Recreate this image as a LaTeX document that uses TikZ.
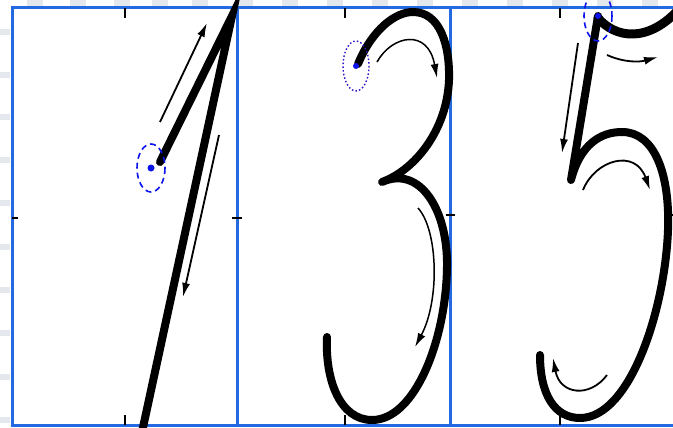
\documentclass[tikz,border=0pt]{standalone}
\usetikzlibrary{arrows.meta}
\definecolor{frameblue}{RGB}{35,105,225}
\definecolor{dotblue}{RGB}{10,20,235}
\definecolor{stripe}{RGB}{228,231,236}
\tikzset{
  digit/.style={line width=8pt,line cap=round,line join=round,black},
  guide/.style={line width=1.8pt,black,-{Latex[length=14pt,width=8pt]}},
  frame/.style={line width=3pt,frameblue},
  tick/.style={line width=1.8pt,black},
  startring/.style={line width=1.6pt,dotblue},
}
\begin{document}
\begin{tikzpicture}[x=1pt,y=-1pt]
\useasboundingbox (0,0) rectangle (673,428);
\fill[white] (0,0) rectangle (673,428);
% faint slide background stripes
\foreach \yy in {32,75,117,160,203,247,290,333,377,420}
  \fill[stripe] (0,\yy-3) rectangle (10,\yy+3);
\foreach \xx in {35,78,122,160,200,245,290,335,380,425,470,515,560,605,650}
  \fill[stripe] (\xx-8,0) rectangle (\xx+8,6);
% panels
\draw[frame] (12,8) rectangle (237,425);
\draw[frame] (237,8) rectangle (450,425);
\draw[frame] (450,8) -- (675,8);
\draw[frame] (450,425) -- (675,425);
% ticks
\foreach \xx in {125,345,560} {
  \draw[tick] (\xx,8) -- (\xx,18);
  \draw[tick] (\xx,415) -- (\xx,425);
}
\draw[tick] (12,218) -- (18,218);
\draw[tick] (232,218) -- (242,218);
\draw[tick] (446,215) -- (455,215);
\draw[tick] (668,215) -- (673,215);

% ---------- digit 1 ----------
\coordinate (s1) at (151,168);
\draw[line width=8pt,line cap=round,line join=miter,miter limit=20] (160,162) -- (232,16) -- (142,432);
\draw[guide] (160,122) -- (207,23);
\draw[guide] (219,135) -- (183,297);
\draw[startring,dash pattern=on 6pt off 4pt] (s1) ellipse [x radius=14, y radius=24];
\fill[dotblue] (s1) circle (3.5);

% ---------- digit 3 ----------
\coordinate (s3) at (356,66);
\draw[digit] (358,64) .. controls (372,30) and (395,12) .. (413,12)
  .. controls (440,12) and (450,45) .. (449,80)
  .. controls (447,130) and (415,170) .. (382,182)
  .. controls (420,165) and (448,210) .. (447,267)
  .. controls (446,340) and (415,420) .. (372,420)
  .. controls (340,420) and (325,380) .. (327,337);
\draw[guide,line width=1.5pt] (377,62) .. controls (392,35) and (428,28) .. (437,78);
\draw[guide,line width=1.5pt] (418,208) .. controls (438,230) and (440,300) .. (415,347);
\draw[line width=1.4pt,dotblue!70!violet,dash pattern=on 1.5pt off 2.2pt] (s3) ellipse [x radius=13, y radius=25];
\fill[dotblue] (s3) circle (3);

% ---------- digit 5 ----------
\coordinate (s5) at (598,16);
\draw[digit,line width=9pt] (598,18) .. controls (615,38) and (648,44) .. (680,8);
\draw[digit] (598,16) -- (571,180)
  .. controls (580,145) and (600,132) .. (622,132)
  .. controls (655,132) and (670,175) .. (668,230)
  .. controls (665,310) and (630,418) .. (580,418)
  .. controls (555,418) and (540,395) .. (540,355);
\draw[guide] (607,55) .. controls (625,63) and (640,62) .. (658,57);
\draw[guide] (578,43) -- (562,153);
\draw[guide] (583,190) .. controls (595,160) and (635,148) .. (650,190);
\draw[guide] (607,375) .. controls (590,398) and (560,395) .. (553,358);
\draw[startring,dash pattern=on 6pt off 4pt] (s5) ellipse [x radius=14, y radius=25];
\fill[dotblue] (s5) circle (3);
\end{tikzpicture}
\end{document}
